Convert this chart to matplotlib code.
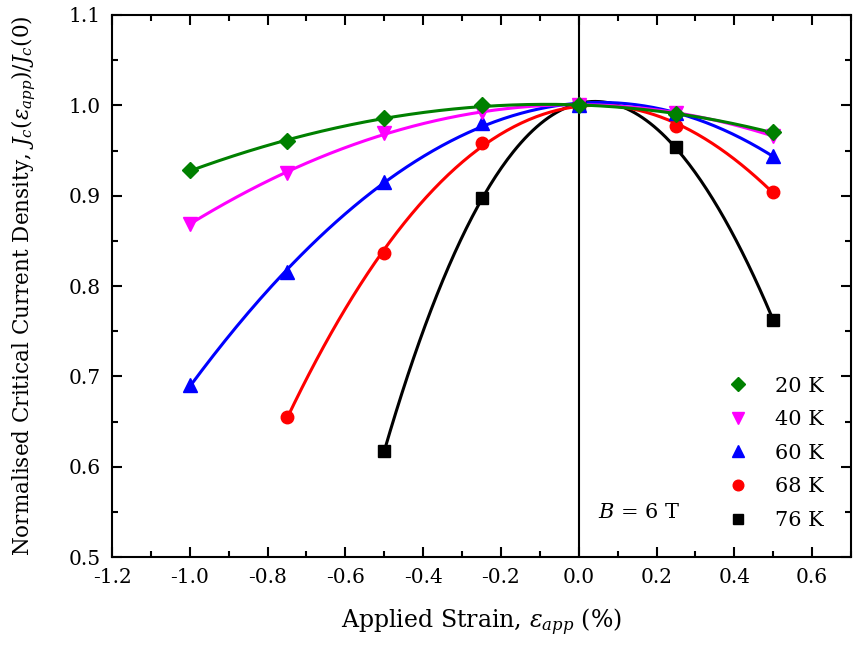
import matplotlib
matplotlib.use("Agg")
import matplotlib.pyplot as plt
import numpy as np
from matplotlib.ticker import MultipleLocator, FormatStrFormatter

plt.rcParams['font.family'] = 'DejaVu Serif'
plt.rcParams['mathtext.fontset'] = 'dejavuserif'

# Normalised Jc vs applied strain at B = 6 T
temps = ['20 K', '40 K', '60 K', '68 K', '76 K']
strain_20 = [-1.0, -0.75, -0.5, -0.25, 0.0, 0.25, 0.5]
jc_20 = [0.928, 0.960, 0.986, 1.000, 1.000, 0.990, 0.970]
strain_40 = [-1.0, -0.75, -0.5, -0.25, 0.0, 0.25, 0.5]
jc_40 = [0.869, 0.925, 0.969, 0.993, 1.000, 0.992, 0.966]
strain_60 = [-1.0, -0.75, -0.5, -0.25, 0.0, 0.25, 0.5]
jc_60 = [0.690, 0.815, 0.915, 0.980, 1.000, 0.991, 0.944]
strain_68 = [-0.75, -0.5, -0.25, 0.0, 0.25, 0.5]
jc_68 = [0.655, 0.836, 0.958, 1.000, 0.977, 0.904]
strain_76 = [-0.5, -0.25, 0.0, 0.25, 0.5]
jc_76 = [0.617, 0.897, 1.000, 0.954, 0.762]

series = [
    (strain_20, jc_20, 'green', 'D', 8),
    (strain_40, jc_40, 'magenta', 'v', 10),
    (strain_60, jc_60, 'blue', '^', 10),
    (strain_68, jc_68, 'red', 'o', 9),
    (strain_76, jc_76, 'black', 's', 8),
]

fig = plt.figure(figsize=(8.59, 6.55), dpi=100)
ax = fig.add_axes([0.1304, 0.1496, 0.8603, 0.8275])

ax.axvline(0, color='black', lw=1.5, zorder=1)

# draw hottest first so the low-temperature curves sit on top
handles = {}
for i in reversed(range(len(series))):
    x, y, c, m, ms = series[i]
    coef = np.polyfit(x, y, 3)
    xs = np.linspace(min(x), max(x), 200)
    ax.plot(xs, np.polyval(coef, xs), color=c, lw=2.2, zorder=2 + (5 - i))
    h, = ax.plot(x, y, ls='none', marker=m, ms=ms, color=c, mec=c,
                 zorder=10 + (5 - i), label=temps[i])
    handles[i] = h

ax.legend([handles[i] for i in range(len(series))], temps, loc='lower right',
          frameon=False, fontsize=15, handletextpad=0.8, labelspacing=0.7,
          borderaxespad=0.9, markerscale=0.85)

ax.text(0.05, 0.549, '$B$ = 6 T', fontsize=15, va='center', ha='left')

ax.set_xlim(-1.2, 0.7)
ax.set_ylim(0.5, 1.1)
ax.xaxis.set_major_locator(MultipleLocator(0.2))
ax.xaxis.set_minor_locator(MultipleLocator(0.1))
ax.yaxis.set_major_locator(MultipleLocator(0.1))
ax.yaxis.set_minor_locator(MultipleLocator(0.05))
ax.xaxis.set_major_formatter(FormatStrFormatter('%.1f'))
ax.yaxis.set_major_formatter(FormatStrFormatter('%.1f'))
ax.tick_params(which='both', direction='in', top=True, right=True, width=1.5,
               labelsize=14.5, pad=8)
ax.tick_params(which='major', length=7)
ax.tick_params(which='minor', length=4)
for s in ax.spines.values():
    s.set_linewidth(1.5)

ax.set_xlabel(r'Applied Strain, $\varepsilon_{app}$ (%)', fontsize=17, labelpad=14)
ax.set_ylabel(r'Normalised Critical Current Density, $J_c(\varepsilon_{app})/J_c(0)$',
              fontsize=15.5, labelpad=22)

fig.savefig('out.png', dpi=100)
